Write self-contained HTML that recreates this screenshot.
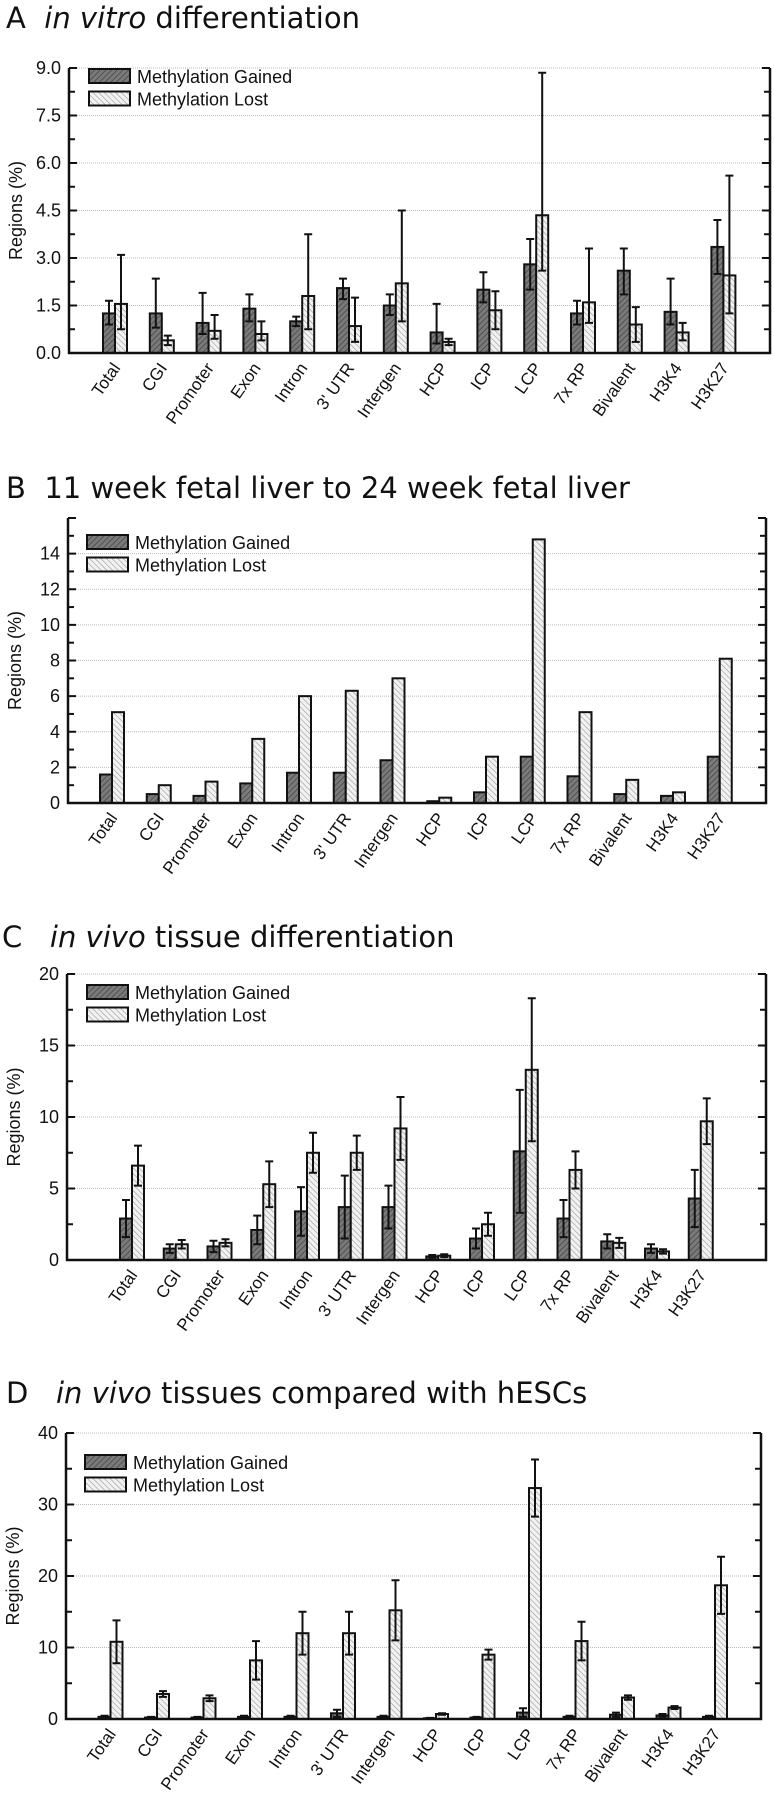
<!DOCTYPE html>
<html><head><meta charset="utf-8">
<style>
body{margin:0;background:#fff;width:774px;height:1800px;overflow:hidden;font-family:"Liberation Sans",sans-serif;}
svg{display:block}
.title{font-family:"DejaVu Sans","Liberation Sans",sans-serif;font-size:29px;fill:#111}
.tick{font-size:18px;fill:#111}
.cat{font-size:17px;fill:#111}
.leg{font-size:18px;fill:#111}
</style></head>
<body>
<svg id="fig" width="774" height="1800" viewBox="0 0 774 1800" xmlns="http://www.w3.org/2000/svg">
<defs>
<pattern id="hg" patternUnits="userSpaceOnUse" width="4" height="4" patternTransform="rotate(45)">
<rect width="4" height="4" fill="#7a7a7a"/><line x1="0" y1="0" x2="0" y2="4" stroke="#444" stroke-width="1.5"/></pattern>
<pattern id="hl" patternUnits="userSpaceOnUse" width="4" height="4" patternTransform="rotate(-45)">
<rect width="4" height="4" fill="#f2f2f2"/><line x1="0" y1="0" x2="0" y2="4" stroke="#999" stroke-width="1.2"/></pattern>
</defs>
</svg>
<script>
const categories=["Total","CGI","Promoter","Exon","Intron","3' UTR","Intergen","HCP","ICP","LCP","7x RP","Bivalent","H3K4","H3K27"];
// Panel A
const aGained=[1.25,1.25,0.95,1.4,1.0,2.05,1.5,0.65,2.0,2.8,1.25,2.6,1.3,3.35];
const aGainedLo=[0.9,0.8,0.6,1.0,0.85,1.7,1.2,0.3,1.6,2.0,0.9,1.85,0.9,2.5];
const aGainedHi=[1.65,2.35,1.9,1.85,1.15,2.35,1.85,1.55,2.55,3.6,1.65,3.3,2.35,4.2];
const aLost=[1.55,0.4,0.7,0.6,1.8,0.85,2.2,0.35,1.35,4.35,1.6,0.9,0.65,2.45];
const aLostLo=[0.75,0.25,0.45,0.4,0.75,0.35,1.0,0.25,0.75,2.6,0.95,0.35,0.4,1.25];
const aLostHi=[3.1,0.55,1.2,1.0,3.75,1.75,4.5,0.45,1.95,8.85,3.3,1.45,0.95,5.6];
const aTicks=["0.0","1.5","3.0","4.5","6.0","7.5","9.0"];
// Panel B
const bGained=[1.6,0.5,0.4,1.1,1.7,1.7,2.4,0.1,0.6,2.6,1.5,0.5,0.4,2.6];
const bLost=[5.1,1.0,1.2,3.6,6.0,6.3,7.0,0.3,2.6,14.8,5.1,1.3,0.6,8.1];
const bTicks=["0","2","4","6","8","10","12","14"];
// Panel C
const cGained=[2.9,0.8,0.95,2.1,3.4,3.7,3.7,0.25,1.5,7.6,2.9,1.3,0.8,4.3];
const cGainedErr=[1.3,0.3,0.4,1.0,1.7,2.2,1.5,0.1,0.7,4.3,1.3,0.5,0.3,2.0];
const cLost=[6.6,1.1,1.2,5.3,7.5,7.5,9.2,0.3,2.5,13.3,6.3,1.2,0.6,9.7];
const cLostErr=[1.4,0.3,0.25,1.6,1.4,1.2,2.2,0.1,0.8,5.0,1.3,0.35,0.15,1.6];
const cTicks=["0","5","10","15","20"];
// Panel D
const dGained=[0.3,0.2,0.2,0.3,0.3,0.8,0.3,0.1,0.2,0.9,0.3,0.6,0.5,0.3];
const dGainedErr=[0.15,0.1,0.1,0.15,0.15,0.5,0.15,0.05,0.1,0.6,0.15,0.3,0.2,0.15];
const dLost=[10.8,3.5,2.9,8.2,12.0,12.0,15.2,0.7,9.0,32.3,10.9,3.0,1.6,18.7];
const dLostErr=[3.0,0.4,0.4,2.7,3.0,3.0,4.2,0.1,0.7,4.0,2.7,0.3,0.2,4.0];
const dTicks=["0","10","20","30","40"];

const svg=document.getElementById('fig');
const NS="http://www.w3.org/2000/svg";
function mk(tag,attrs,parent){const e=document.createElementNS(NS,tag);for(const k in attrs)e.setAttribute(k,attrs[k]);(parent||svg).appendChild(e);return e;}

function panel(p){
  const g=mk('g',{});
  
  
  const y=v=>p.y0-(v/p.ymax)*(p.y0-p.ytop);
  const x=i=>p.x0c+i*p.step;
  const t=mk('text',{x:p.tx,y:p.ty,class:'title'},g);
  
  
  t.innerHTML=p.title;
  for(let i=1;i<p.ticks.length;i++){
    const v=parseFloat(p.ticks[i]);
    const gl=mk('line',{x1:p.xl,x2:p.xr,y1:y(v),y2:y(v),stroke:'#bbb','stroke-width':1,'stroke-dasharray':'1,1'},g);
    
    
  }
  const tv=parseFloat(p.ticks[1]);
  for(let v=0;v<=p.ymax+1e-9;v+=tv/2){
    const len=(Math.abs(v/tv-Math.round(v/tv))<1e-6)?8:6;
    mk('line',{x1:p.xl,x2:p.xl+len,y1:y(v),y2:y(v),stroke:'#111','stroke-width':2},g);
    mk('line',{x1:p.xr,x2:p.xr-len,y1:y(v),y2:y(v),stroke:'#111','stroke-width':2},g);
  }
  p.ticks.forEach(s=>{
    const tl=mk('text',{x:p.xl-8,y:y(parseFloat(s))+6,'text-anchor':'end',class:'tick'},g);
    
    
    tl.textContent=s;
  });
  const yt=mk('text',{x:0,y:0,'text-anchor':'middle',class:'tick',transform:`translate(${p.xl-47},${(p.y0+p.ytop)/2})rotate(-90)`},g);
  
  
  yt.textContent='Regions (%)';
  const bw=12;
  categories.forEach((c,i)=>{
    const cx=x(i);
    const gv=p.gained[i], lv=p.lost[i];
    const b1=mk('rect',{x:cx-bw,y:y(gv),width:bw,height:p.y0-y(gv),fill:'url(#hg)',stroke:'#111','stroke-width':2},g);
    
    
    const b2=mk('rect',{x:cx,y:y(lv),width:bw,height:p.y0-y(lv),fill:'url(#hl)',stroke:'#111','stroke-width':2},g);
    
    
    const errs=[];
    if(p.gLo) errs.push([cx-bw/2,p.gLo[i],p.gHi[i]]);
    else if(p.gErr) errs.push([cx-bw/2,gv-p.gErr[i],gv+p.gErr[i]]);
    if(p.lLo) errs.push([cx+bw/2,p.lLo[i],p.lHi[i]]);
    else if(p.lErr) errs.push([cx+bw/2,lv-p.lErr[i],lv+p.lErr[i]]);
    errs.forEach(e=>{
      const ex=e[0];
      const el=mk('path',{d:`M${ex},${y(e[1])}V${y(e[2])}M${ex-4},${y(e[1])}H${ex+4}M${ex-4},${y(e[2])}H${ex+4}`,stroke:'#111','stroke-width':2,fill:'none'},g);
      
      
    });
    const lab=mk('text',{x:0,y:0,'text-anchor':'end',class:'cat',transform:`translate(${cx+6},${p.y0+15}) rotate(-55)`},g);
    
    
    lab.textContent=c;
  });
  const ax=mk('path',{d:`M${p.xl},${p.ytop}V${p.y0}H${p.xr}V${p.ytop}`,stroke:'#111','stroke-width':2.5,fill:'none'},g);
  
  
  [['Methylation Gained','url(#hg)'],['Methylation Lost','url(#hl)']].forEach((l,k)=>{
    const ly=p.ly+k*22.5;
    const r=mk('rect',{x:p.lx,y:ly,width:41,height:14,fill:l[1],stroke:'#111','stroke-width':2},g);
    
    
    const lt=mk('text',{x:p.lx+48,y:ly+14,class:'leg'},g);
    
    
    lt.textContent=l[0];
  });
}

panel({id:'a',title:'A&#160;&#160;<tspan font-style="italic">in vitro</tspan> differentiation',tx:6,ty:28,
  xl:69,xr:770,ytop:68,y0:353,ymax:9,x0c:115,step:46.8,ticks:aTicks,
  gained:aGained,lost:aLost,gLo:aGainedLo,gHi:aGainedHi,lLo:aLostLo,lHi:aLostHi,lx:89,ly:69});
panel({id:'b',title:'B&#160;&#160;11 week fetal liver to 24 week fetal liver',tx:6,ty:498,
  xl:68,xr:766,ytop:518,y0:803,ymax:16,x0c:112,step:46.75,ticks:bTicks,
  gained:bGained,lost:bLost,lx:87,ly:535});
panel({id:'c',title:'C&#160;&#160;&#160;<tspan font-style="italic">in vivo</tspan> tissue differentiation',tx:2,ty:947,
  xl:67,xr:766,ytop:974,y0:1260,ymax:20,x0c:132,step:43.75,ticks:cTicks,
  gained:cGained,lost:cLost,gErr:cGainedErr,lErr:cLostErr,lx:87,ly:985});
panel({id:'d',title:'D&#160;&#160;&#160;<tspan font-style="italic">in vivo</tspan> tissues compared with hESCs',tx:6,ty:1403,
  xl:66,xr:761,ytop:1433,y0:1719,ymax:40,x0c:110.5,step:46.5,ticks:dTicks,
  gained:dGained,lost:dLost,gErr:dGainedErr,lErr:dLostErr,lx:85,ly:1455});
</script>
</body></html>
